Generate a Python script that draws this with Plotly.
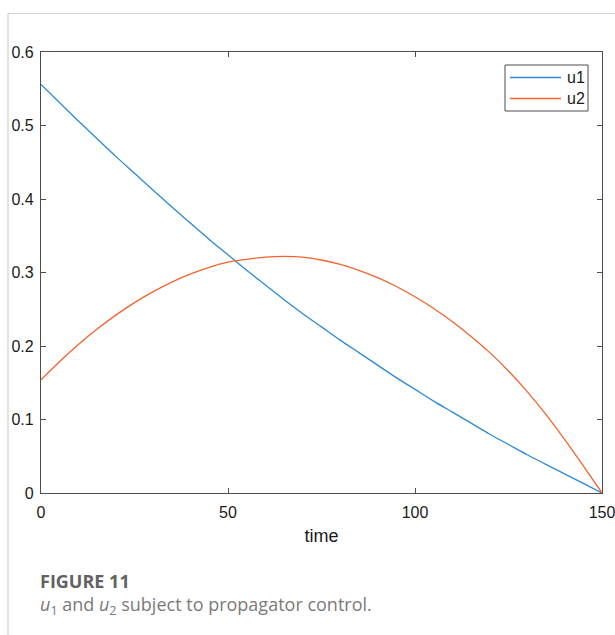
import plotly.graph_objects as go

# ---- data ----
time = [0, 5, 10, 15, 20, 25, 30, 35, 40, 45, 50, 55, 60, 65, 70, 75,
        80, 85, 90, 95, 100, 105, 110, 115, 120, 125, 130, 135, 140, 145, 150]
u1 = [0.556, 0.531, 0.506, 0.482, 0.458, 0.435, 0.412, 0.389, 0.367, 0.345,
      0.324, 0.303, 0.283, 0.263, 0.244, 0.226, 0.208, 0.191, 0.174, 0.157,
      0.141, 0.125, 0.110, 0.095, 0.080, 0.066, 0.052, 0.039, 0.026, 0.013, 0.0]
u2 = [0.154, 0.179, 0.202, 0.223, 0.242, 0.259, 0.274, 0.287, 0.298, 0.307,
      0.314, 0.318, 0.321, 0.322, 0.321, 0.317, 0.311, 0.303, 0.293, 0.281,
      0.267, 0.251, 0.233, 0.213, 0.191, 0.166, 0.138, 0.107, 0.073, 0.037, 0.0]

x_ticks = [0, 50, 100, 150]
x_tick_labels = ["0", "50", "100", "150"]
y_ticks = [0, 0.1, 0.2, 0.3, 0.4, 0.5, 0.6]
y_tick_labels = ["0", "0.1", "0.2", "0.3", "0.4", "0.5", "0.6"]

series_names = ["u1", "u2"]
series_colors = ["#2b8ad6", "#f4622f"]

caption_title = "FIGURE 11"
caption_text = "<i>u</i><sub>1</sub> and <i>u</i><sub>2</sub> subject to propagator control."

W, H = 615, 635
L, R, T, B = 41, 13, 52, 142
plot_w = W - L - R
plot_h = H - T - B


def px_x(px):
    return (px - L) / plot_w


def px_y(py):
    return (H - B - py) / plot_h


fig = go.Figure()
for name, ys, col in zip(series_names, [u1, u2], series_colors):
    fig.add_trace(go.Scatter(
        x=time, y=ys, name=name, mode="lines",
        line=dict(color=col, width=1.3, shape="spline", smoothing=1.0),
    ))

axis_col = "#4d4d4d"
txt_col = "#1a1a1a"
sans = "Liberation Sans, Arial, sans-serif"
tick_font = dict(family=sans, size=16, color=txt_col)

fig.update_xaxes(
    range=[0, 150], tickvals=x_ticks, ticktext=x_tick_labels,
    showline=True, mirror="ticks", linecolor=axis_col, linewidth=1.2,
    ticks="inside", ticklen=5, tickcolor=axis_col, tickwidth=1,
    showgrid=False, zeroline=False, tickfont=tick_font, ticklabelstandoff=5,
    ticklabeloverflow="allow",
    title=dict(text="time", font=dict(family=sans, size=18, color=txt_col), standoff=9),
)
fig.update_yaxes(
    range=[0, 0.6], tickvals=y_ticks, ticktext=y_tick_labels,
    showline=True, mirror="ticks", linecolor=axis_col, linewidth=1.2,
    ticks="inside", ticklen=5, tickcolor=axis_col, tickwidth=1,
    showgrid=False, zeroline=False, tickfont=tick_font, ticklabelstandoff=3,
    ticklabeloverflow="allow",
)

# light grey page frame
frame_col = "#d0d0d0"
fig.add_shape(type="line", xref="paper", yref="paper",
              x0=px_x(8), x1=px_x(W + 5), y0=px_y(13.5), y1=px_y(13.5),
              line=dict(color=frame_col, width=1.2))
fig.add_shape(type="line", xref="paper", yref="paper",
              x0=px_x(8), x1=px_x(8), y0=px_y(13.5), y1=px_y(H + 5),
              line=dict(color=frame_col, width=1.2))

# legend box (MATLAB style)
fig.add_shape(type="rect", xref="paper", yref="paper",
              x0=px_x(505), x1=px_x(588), y0=px_y(65), y1=px_y(111),
              line=dict(color=axis_col, width=1), fillcolor="white", layer="above")
for i, (name, col) in enumerate(zip(series_names, series_colors)):
    yy = 77.5 + i * 21
    fig.add_shape(type="line", xref="paper", yref="paper",
                  x0=px_x(510), x1=px_x(561), y0=px_y(yy), y1=px_y(yy),
                  line=dict(color=col, width=1.3), layer="above")
    fig.add_annotation(xref="paper", yref="paper", x=px_x(565), y=px_y(yy),
                       xanchor="left", yanchor="middle", showarrow=False,
                       text=name, font=dict(family=sans, size=16, color=txt_col))

# caption
fig.add_annotation(xref="paper", yref="paper", x=px_x(38), y=px_y(581),
                   xanchor="left", yanchor="middle", showarrow=False,
                   text="<b>" + caption_title + "</b>",
                   font=dict(family="Open Sans, sans-serif", size=18, color="#626262"))
fig.add_annotation(xref="paper", yref="paper", x=px_x(38), y=px_y(605),
                   xanchor="left", yanchor="middle", showarrow=False,
                   text=caption_text,
                   font=dict(family="Open Sans, sans-serif", size=18, color="#7a7a7a"))

fig.update_layout(
    width=W, height=H,
    margin=dict(l=L, r=R, t=T, b=B, autoexpand=False),
    paper_bgcolor="white", plot_bgcolor="white",
    showlegend=False,
)

fig.write_html("out.html")
